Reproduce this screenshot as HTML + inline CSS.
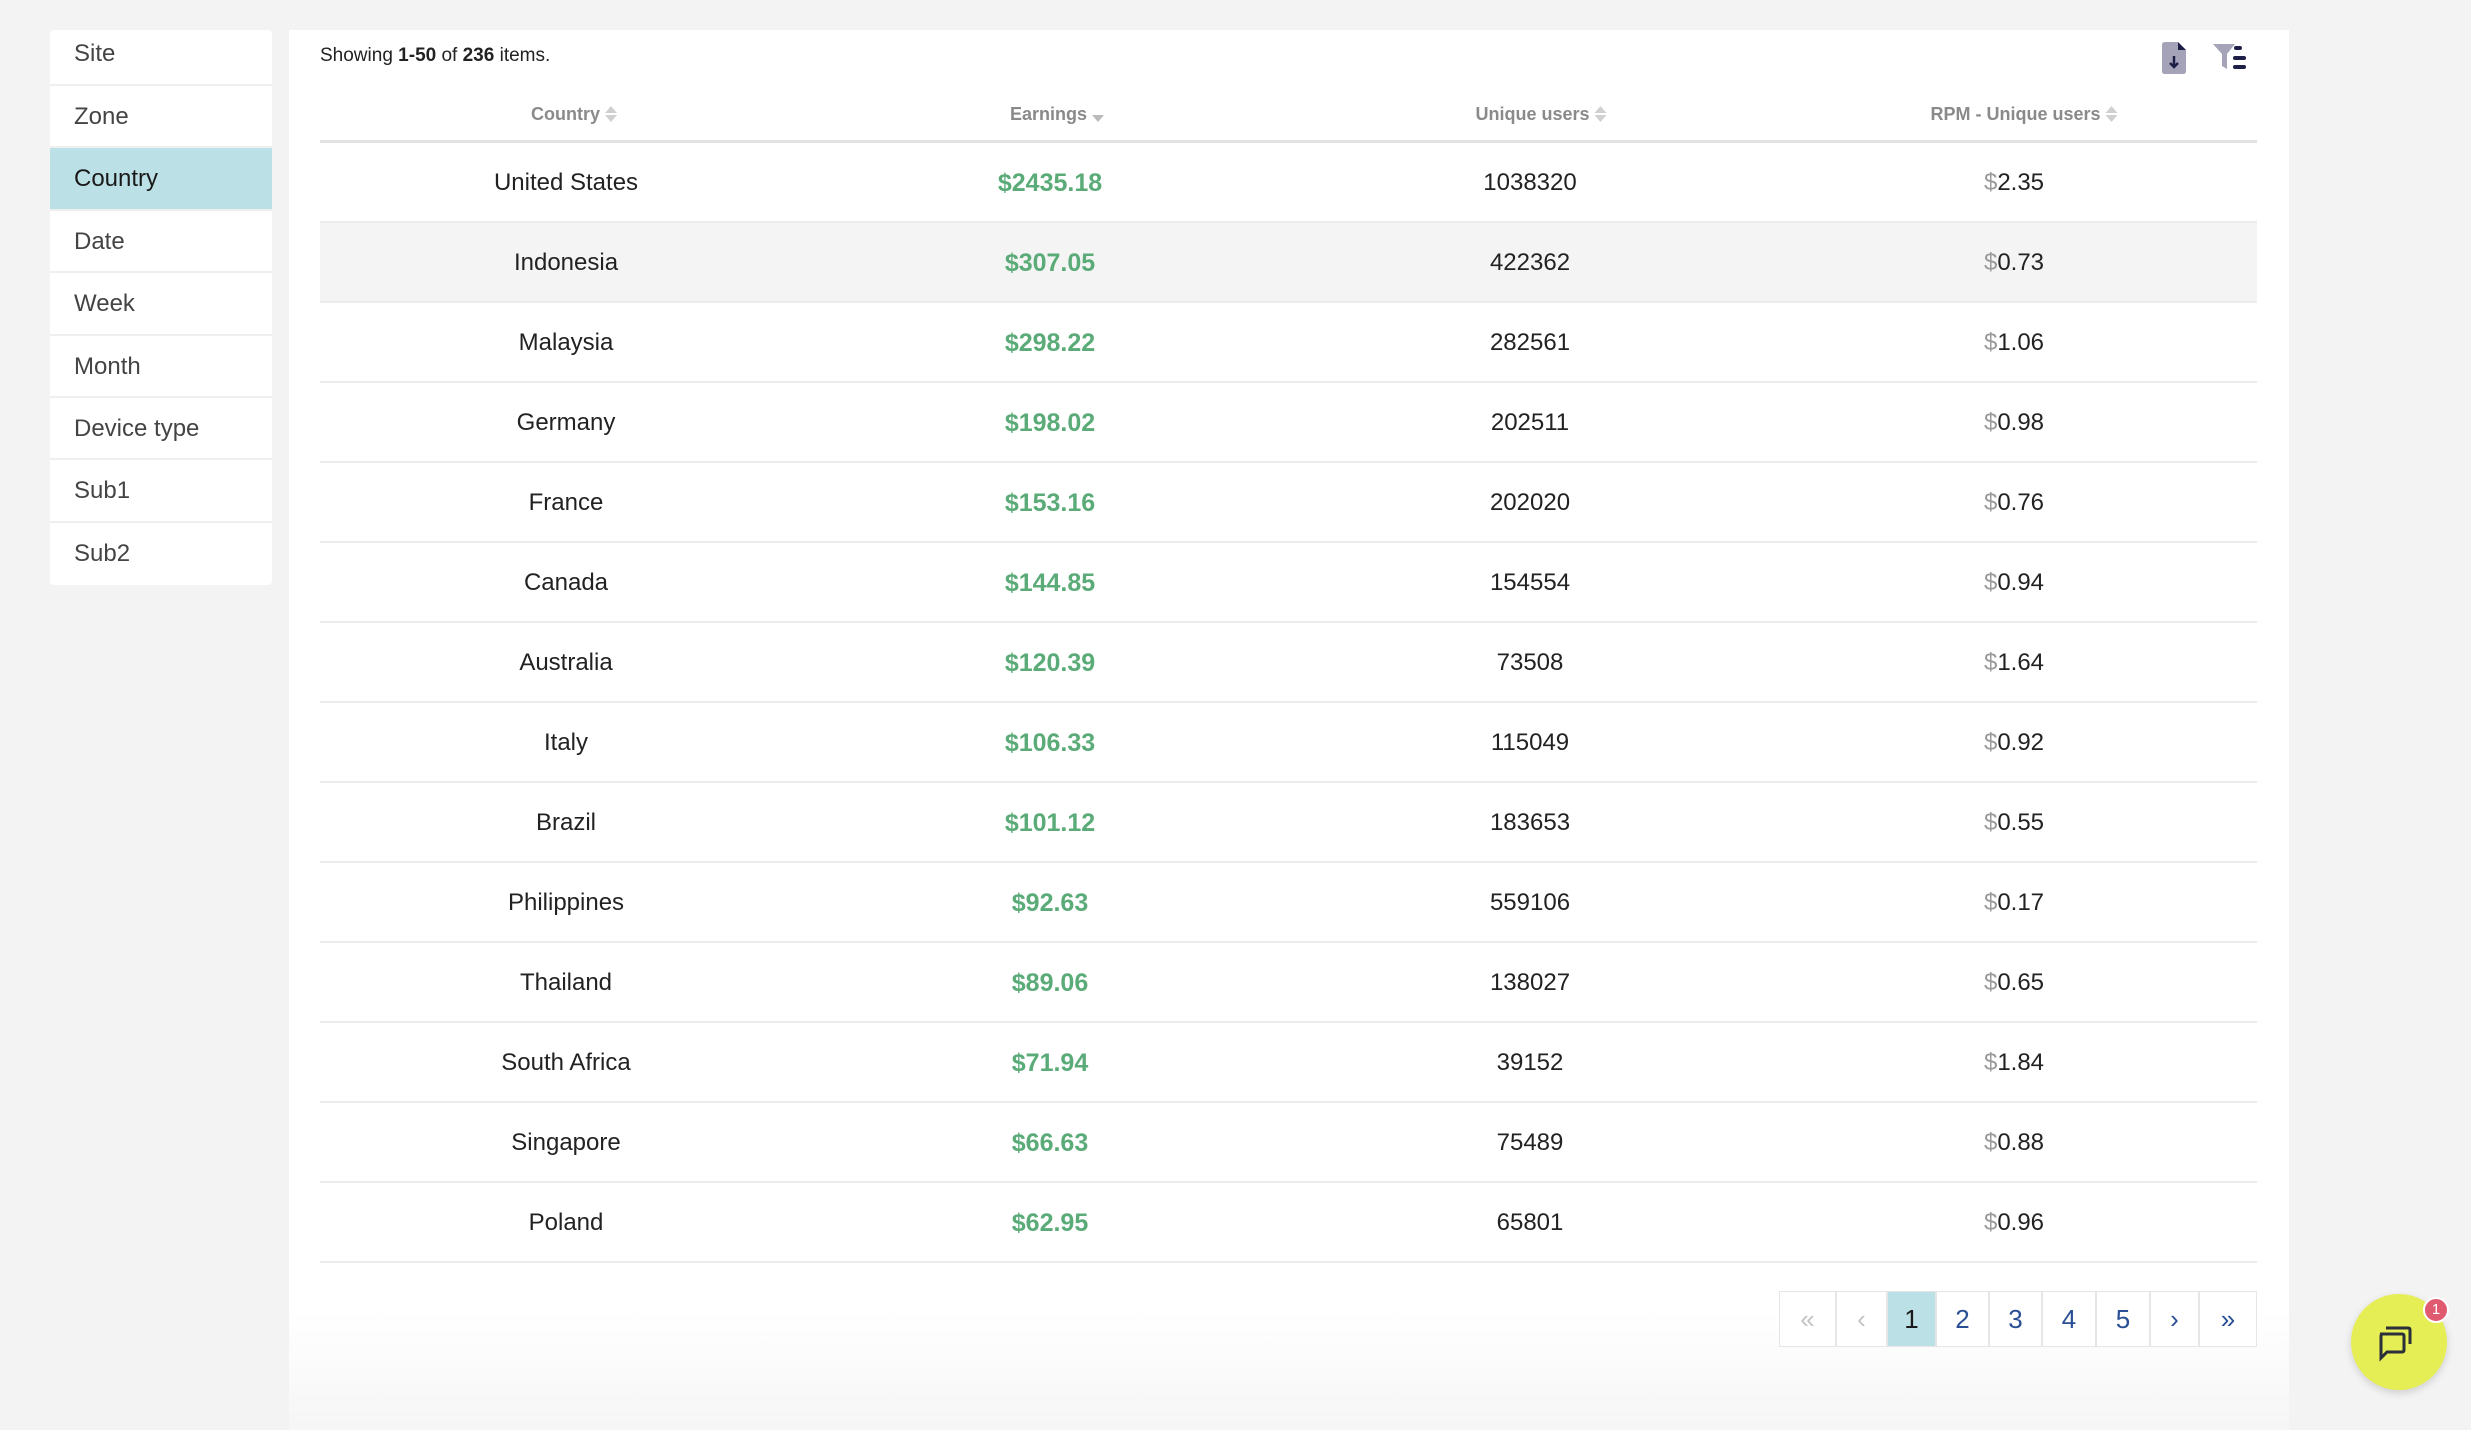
<!DOCTYPE html>
<html><head><meta charset="utf-8">
<style>
*{margin:0;padding:0;box-sizing:border-box}
body{width:2471px;height:1416px;background:#f3f3f3;font-family:"Liberation Sans",sans-serif;position:relative;overflow:hidden}
.side{position:absolute;left:50px;top:30px;width:222px;background:#fff;border-radius:4px}
.side div{height:62.4px;line-height:62px;padding-left:24px;font-size:24px;color:#444;border-bottom:2px solid #efefef}
.side div.first{height:56px;line-height:48px}
.side div.act{background:#bbe0e5;color:#1a1a1a}
.panel{position:absolute;left:289px;top:30px;width:2000px;height:1400px;background:linear-gradient(#fff 0,#fff 1280px,#f6f6f6 1400px)}
.show{position:absolute;left:31px;top:15px;font-size:19px;color:#222}
.hdr{position:absolute;top:74px;font-size:18px;font-weight:bold;color:#8a8a8a;transform:translateX(-50%);white-space:nowrap}
.hdr i{display:inline-block;vertical-align:middle;width:12px;height:18px;position:relative}
.hdr i:before,.hdr i:after{content:"";position:absolute;left:0;border-left:6px solid transparent;border-right:6px solid transparent}
.hdr i:before{top:0;border-bottom:7px solid #d0d0d0}
.hdr i:after{top:9px;border-top:7px solid #d0d0d0}
.hdr i.dn:before{display:none}
.hdr i.dn:after{border-top-color:#bbb}
.hline{position:absolute;left:31px;width:1937px;top:110px;height:3px;background:#e2e2e2}
.row{position:absolute;left:31px;width:1937px;height:80px;border-bottom:2px solid #ececec}
.row span{position:absolute;top:26px;font-size:24px;color:#222;transform:translateX(-50%);white-space:nowrap}
.row .e{color:#5aab78;font-weight:bold;font-size:25px}
.row .d{color:#999;font-style:normal}
.pg{position:absolute;top:1291px;height:56px;border:1px solid #e6e6e6;background:#fff;text-align:center;line-height:54px;font-size:26px;color:#2a4f94}
</style></head><body>
<div class="side">
<div class="first">Site</div><div>Zone</div><div class="act">Country</div><div>Date</div><div>Week</div><div>Month</div><div>Device type</div><div>Sub1</div><div style="border-bottom:none">Sub2</div>
</div>
<div class="panel">
<div class="show">Showing <b>1-50</b> of <b>236</b> items.</div>
<svg style="position:absolute;left:1873px;top:12px" width="24" height="32"><path d="M0 3 Q0 0 3 0 L16 0 L24 8 L24 29 Q24 32 21 32 L3 32 Q0 32 0 29Z" fill="#a4a3b8"/><path d="M16 0 L24 8 L16 8Z" fill="#1d1f47"/><path d="M12 14 V25 M8 21 L12 25 L16 21" stroke="#1d1f47" stroke-width="2.5" fill="none"/></svg>
<svg style="position:absolute;left:1924px;top:14px" width="34" height="26"><path d="M0 0 H22 L14 10 V25 L9 22 V10Z" fill="#a4a3b8"/><rect x="21" y="2" width="8" height="4" rx="2" fill="#1d1f47"/><rect x="20" y="12" width="13" height="4" rx="2" fill="#1d1f47"/><rect x="20" y="21" width="13" height="4" rx="2" fill="#1d1f47"/></svg>
<div class="hdr" style="left:285px">Country <i></i></div>
<div class="hdr" style="left:768px">Earnings <i class="dn"></i></div>
<div class="hdr" style="left:1252px">Unique users <i></i></div>
<div class="hdr" style="left:1735px">RPM - Unique users <i></i></div>
<div class="hline"></div>
<div class="row" style="top:113px"><span style="left:246px">United States</span><span class="e" style="left:730px">$2435.18</span><span style="left:1210px">1038320</span><span style="left:1694px"><i class="d">$</i>2.35</span></div>
<div class="row" style="top:193px;background:#f5f4f4"><span style="left:246px">Indonesia</span><span class="e" style="left:730px">$307.05</span><span style="left:1210px">422362</span><span style="left:1694px"><i class="d">$</i>0.73</span></div>
<div class="row" style="top:273px"><span style="left:246px">Malaysia</span><span class="e" style="left:730px">$298.22</span><span style="left:1210px">282561</span><span style="left:1694px"><i class="d">$</i>1.06</span></div>
<div class="row" style="top:353px"><span style="left:246px">Germany</span><span class="e" style="left:730px">$198.02</span><span style="left:1210px">202511</span><span style="left:1694px"><i class="d">$</i>0.98</span></div>
<div class="row" style="top:433px"><span style="left:246px">France</span><span class="e" style="left:730px">$153.16</span><span style="left:1210px">202020</span><span style="left:1694px"><i class="d">$</i>0.76</span></div>
<div class="row" style="top:513px"><span style="left:246px">Canada</span><span class="e" style="left:730px">$144.85</span><span style="left:1210px">154554</span><span style="left:1694px"><i class="d">$</i>0.94</span></div>
<div class="row" style="top:593px"><span style="left:246px">Australia</span><span class="e" style="left:730px">$120.39</span><span style="left:1210px">73508</span><span style="left:1694px"><i class="d">$</i>1.64</span></div>
<div class="row" style="top:673px"><span style="left:246px">Italy</span><span class="e" style="left:730px">$106.33</span><span style="left:1210px">115049</span><span style="left:1694px"><i class="d">$</i>0.92</span></div>
<div class="row" style="top:753px"><span style="left:246px">Brazil</span><span class="e" style="left:730px">$101.12</span><span style="left:1210px">183653</span><span style="left:1694px"><i class="d">$</i>0.55</span></div>
<div class="row" style="top:833px"><span style="left:246px">Philippines</span><span class="e" style="left:730px">$92.63</span><span style="left:1210px">559106</span><span style="left:1694px"><i class="d">$</i>0.17</span></div>
<div class="row" style="top:913px"><span style="left:246px">Thailand</span><span class="e" style="left:730px">$89.06</span><span style="left:1210px">138027</span><span style="left:1694px"><i class="d">$</i>0.65</span></div>
<div class="row" style="top:993px"><span style="left:246px">South Africa</span><span class="e" style="left:730px">$71.94</span><span style="left:1210px">39152</span><span style="left:1694px"><i class="d">$</i>1.84</span></div>
<div class="row" style="top:1073px"><span style="left:246px">Singapore</span><span class="e" style="left:730px">$66.63</span><span style="left:1210px">75489</span><span style="left:1694px"><i class="d">$</i>0.88</span></div>
<div class="row" style="top:1153px"><span style="left:246px">Poland</span><span class="e" style="left:730px">$62.95</span><span style="left:1210px">65801</span><span style="left:1694px"><i class="d">$</i>0.96</span></div>
</div>
<div class="pg" style="left:1779px;width:57px;color:#c4c4c4">&laquo;</div>
<div class="pg" style="left:1836px;width:51px;color:#c4c4c4">&lsaquo;</div>
<div class="pg" style="left:1887px;width:49px;background:#bbe0e5;color:#1a1a1a">1</div>
<div class="pg" style="left:1936px;width:53px">2</div>
<div class="pg" style="left:1989px;width:53px">3</div>
<div class="pg" style="left:2042px;width:54px">4</div>
<div class="pg" style="left:2096px;width:54px">5</div>
<div class="pg" style="left:2150px;width:49px">&rsaquo;</div>
<div class="pg" style="left:2199px;width:58px">&raquo;</div>
<div style="position:absolute;left:2351px;top:1294px;width:96px;height:96px;border-radius:50%;background:#e6ee55;box-shadow:0 3px 8px rgba(0,0,0,.15)"></div>
<svg style="position:absolute;left:2376px;top:1318px" width="48" height="48"><path d="M10 10 H32 Q34 10 34 12 V26" stroke="#2a2f3a" stroke-width="3" fill="none"/><path d="M4 16 H26 Q28 16 28 18 V32 Q28 34 26 34 H11 L5 40 V18 Q5 16 7 16Z" stroke="#2a2f3a" stroke-width="3" fill="none"/></svg>
<div style="position:absolute;left:2423px;top:1297px;width:26px;height:26px;border-radius:50%;background:#e05a70;border:2px solid #fff;color:#fff;font-size:15px;text-align:center;line-height:22px">1</div>
</body></html>
